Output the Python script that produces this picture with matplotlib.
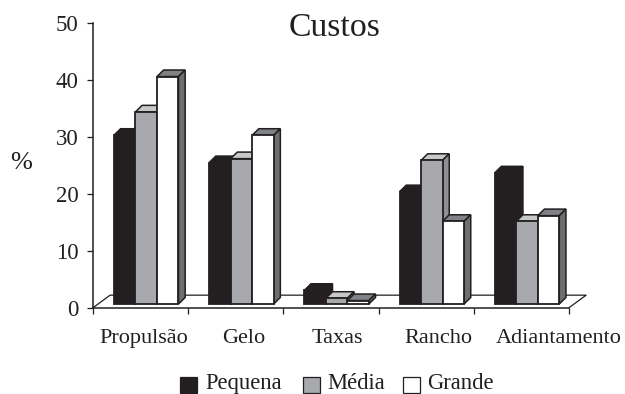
import matplotlib

matplotlib.use("Agg")
import matplotlib.pyplot as plt
from matplotlib.patches import Polygon, Rectangle

plt.rcParams["font.family"] = ["Liberation Serif", "DejaVu Serif"]

# Cost shares by vessel size, in percent
categories = ["Propulsão", "Gelo", "Taxas", "Rancho", "Adiantamento"]
pequena = [29.6, 24.8, 2.4, 19.7, 23]
media = [33.7, 25.5, 1, 25.2, 14.5]
grande = [39.9, 29.6, 0.6, 14.5, 15.5]
series_names = ["Pequena", "Média", "Grande"]
yticks = [0, 10, 20, 30, 40, 50]

W, H = 625, 394
INK = "#231f20"

# front, top and side colours of each series
faces = [
    ("#231f20", "#231f20", "#231f20"),
    ("#a7a9ac", "#c7c8ca", "#8e9093"),
    ("#ffffff", "#808285", "#6d6e71"),
]

BAR_W = 0.226
DEPTH_X = 0.07
DEPTH_Y = 1.15
BASE = 0.65
FLOOR_X = 0.18
FLOOR_Y = 2.2


def fx(px):
    return px / W


def fy(py):
    return 1 - py / H


fig = plt.figure(figsize=(W / 100, H / 100), dpi=100)
ax = fig.add_axes([fx(93), fy(307.7), fx(476), 285 / H])
ax.set_xlim(0, 5)
ax.set_ylim(0, 50)

for name in ["top", "right"]:
    ax.spines[name].set_visible(False)
for name in ["left", "bottom"]:
    ax.spines[name].set_linewidth(1.1)
    ax.spines[name].set_color(INK)

ax.set_xticks(range(6))
ax.set_xticklabels([])
ax.set_yticks(yticks)
ax.set_yticklabels([str(t) for t in yticks], fontsize=16.5, color=INK)
ax.tick_params(axis="both", length=4.5, width=0.9, color=INK, pad=6)

# floor of the 3D box
ax.plot(
    [0, FLOOR_X, 5 + FLOOR_X, 5],
    [0, FLOOR_Y, FLOOR_Y, 0],
    color=INK,
    lw=0.9,
    clip_on=False,
    zorder=1,
)

for s, values in enumerate([pequena, media, grande]):
    front, top, side = faces[s]
    lefts = [i + 0.22 + s * BAR_W for i in range(len(categories))]
    ax.bar(
        lefts,
        values,
        width=BAR_W,
        bottom=BASE,
        align="edge",
        color=front,
        edgecolor=INK,
        linewidth=1.3,
        clip_on=False,
        zorder=3 + s * 2,
    )
    for x0, v in zip(lefts, values):
        x1 = x0 + BAR_W
        y1 = BASE + v
        ax.add_patch(
            Polygon(
                [
                    (x0, y1),
                    (x0 + DEPTH_X, y1 + DEPTH_Y),
                    (x1 + DEPTH_X, y1 + DEPTH_Y),
                    (x1, y1),
                ],
                facecolor=top,
                edgecolor=INK,
                linewidth=1.1,
                clip_on=False,
                zorder=2 + s * 2,
            )
        )
        ax.add_patch(
            Polygon(
                [
                    (x1, BASE),
                    (x1 + DEPTH_X, BASE + DEPTH_Y),
                    (x1 + DEPTH_X, y1 + DEPTH_Y),
                    (x1, y1),
                ],
                facecolor=side,
                edgecolor=INK,
                linewidth=1.1,
                clip_on=False,
                zorder=2 + s * 2,
            )
        )

# category labels sit slightly off their groups
label_x = [143.5, 243.5, 337, 438, 559]
for x, label in zip(label_x, categories):
    fig.text(fx(x), fy(343), label, fontsize=16, color=INK, ha="center", va="baseline")

fig.text(fx(335), fy(36), "Custos", fontsize=24.3, color=INK, ha="center", va="baseline")
fig.text(fx(21), fy(163), "%", fontsize=19, color=INK, ha="center", va="center")

# legend
swatch_x = [180, 303, 403]
text_x = [205, 327, 427]
for s, name in enumerate(series_names):
    fig.add_artist(
        Rectangle(
            (fx(swatch_x[s]), fy(393)),
            17 / W,
            16 / H,
            transform=fig.transFigure,
            facecolor=faces[s][0],
            edgecolor=INK,
            linewidth=0.9,
        )
    )
    fig.text(
        fx(text_x[s]),
        fy(389),
        name,
        fontsize=16.3,
        color=INK,
        ha="left",
        va="baseline",
    )

fig.savefig("out.png", dpi=100)
